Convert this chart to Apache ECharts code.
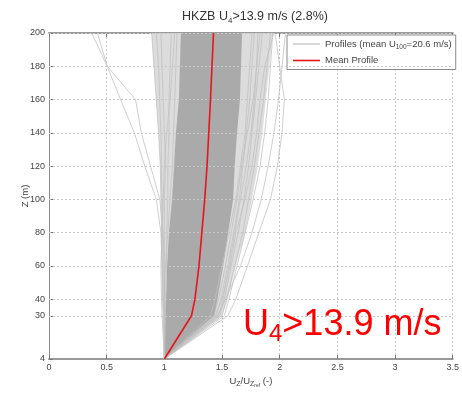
<!DOCTYPE html>
<html>
<head>
<meta charset="utf-8">
<script src="https://cdn.jsdelivr.net/npm/echarts@6/dist/echarts.min.js"></script>
<style>html,body{margin:0;padding:0;background:#fff;}#c{width:462px;height:397px;}</style>
</head>
<body>
<div id="c"></div>
<script>
// Measurement heights (m) and y tick labels
const heights = [4, 30, 40, 60, 80, 100, 120, 140, 160, 180, 200];
const yTicks = [4, 30, 40, 60, 80, 100, 120, 140, 160, 180, 200];
// Mean profile U_z/U_zref at each height
const meanProfile = [1.0, 1.235, 1.265, 1.30, 1.325, 1.35, 1.37, 1.385, 1.40, 1.413, 1.426];
// Dense core of the profile bundle (left / right envelope)
const coreLeft  = [1.0, 1.007, 1.015, 1.024, 1.04, 1.067, 1.084, 1.10, 1.126, 1.135, 1.143];
const coreRight = [1.0, 1.433, 1.46, 1.51, 1.553, 1.596, 1.61, 1.63, 1.655, 1.664, 1.674];
// Sparse fringe of the bundle (left / right envelope)
const fringeLeft  = [1.0, 0.99, 0.985, 0.98, 0.975, 0.97, 0.965, 0.95, 0.93, 0.91, 0.89];
const fringeRight = [1.0, 1.50, 1.55, 1.62, 1.70, 1.76, 1.81, 1.85, 1.88, 1.91, 1.94];
// Individual profiles visible outside the dense core
const profileP1 = [1.0, 0.99, 0.985, 0.98, 0.975, 0.97, 0.965, 0.95, 0.93, 0.91, 0.89];
const profileP2 = [1.0, 1.0, 0.99, 0.99, 0.985, 0.98, 0.975, 0.97, 0.96, 0.95, 0.93];
const profileP3 = [1.0, 0.995, 1.0, 1.0, 1.0, 1.0, 1.01, 1.0, 0.99, 0.98, 0.97];
const profileP4 = [1.0, 1.01, 1.01, 1.02, 1.02, 1.03, 1.03, 1.04, 1.04, 1.05, 1.06];
const profileP5 = [1.0, 0.98, 0.975, 0.97, 0.98, 0.99, 1.0, 1.02, 1.05, 1.07, 1.09];
const profileP6 = [1.0, 1.0, 1.0, 1.01, 1.03, 1.05, 1.07, 1.08, 1.09, 1.10, 1.11];
const profileL1 = [1.0, 1.0, 0.99, 0.98, 0.97, 0.93, 0.83, 0.74, 0.62, 0.505, 0.37];
const profileL2 = [1.0, 1.0, 1.0, 1.0, 0.99, 0.96, 0.88, 0.80, 0.75, 0.505, 0.42];
const profileR1 = [1.0, 1.45, 1.49, 1.55, 1.60, 1.65, 1.68, 1.71, 1.74, 1.76, 1.78];
const profileR2 = [1.0, 1.48, 1.52, 1.58, 1.64, 1.69, 1.73, 1.76, 1.79, 1.82, 1.85];
const profileR3 = [1.0, 1.50, 1.54, 1.61, 1.68, 1.73, 1.78, 1.82, 1.86, 1.89, 1.92];
const profileR4 = [1.0, 1.44, 1.50, 1.57, 1.62, 1.70, 1.76, 1.80, 1.83, 1.87, 1.95];
const profileR5 = [1.0, 1.52, 1.56, 1.63, 1.70, 1.77, 1.83, 1.87, 1.90, 1.92, 1.94];
const profileR6 = [1.0, 1.40, 1.44, 1.50, 1.56, 1.62, 1.66, 1.70, 1.72, 1.74, 1.76];
const profileR7 = [1.0, 1.55, 1.62, 1.72, 1.82, 1.92, 1.98, 2.02, 2.04, 2.00, 1.96];
const profileR8 = [1.0, 1.46, 1.53, 1.66, 1.76, 1.84, 1.90, 1.95, 1.99, 2.02, 2.05];
const profileR9 = [1.0, 1.43, 1.47, 1.53, 1.58, 1.63, 1.67, 1.72, 1.77, 1.80, 1.83];
const profileR10 = [1.0, 1.47, 1.51, 1.56, 1.61, 1.66, 1.71, 1.75, 1.78, 1.80, 1.81];

const profiles = [profileP1, profileP2, profileP3, profileP4, profileP5, profileP6,
  profileL1, profileL2, profileR1, profileR2, profileR3, profileR4, profileR5,
  profileR6, profileR7, profileR8, profileR9, profileR10];

const FONT = 'Liberation Sans, Arial, sans-serif';
const chart = echarts.init(document.getElementById('c'), null, {renderer: 'canvas'});

function bandSeries(name, left, right, fill, z) {
  return {
    type: 'custom', name: name, coordinateSystem: 'cartesian2d', xAxisIndex: 0, yAxisIndex: 0,
    data: [[1, 100]], silent: true, z: z, clip: true,
    renderItem: function (params, api) {
      const pts = [];
      for (let i = 0; i < heights.length; i++) pts.push(api.coord([left[i], heights[i]]));
      for (let i = heights.length - 1; i >= 0; i--) pts.push(api.coord([right[i], heights[i]]));
      return {type: 'polygon', shape: {points: pts}, style: {fill: fill}};
    }
  };
}

const series = [];
series.push({
  type: 'line', name: 'grid', data: [], silent: true, z: 0,
  markLine: {
    silent: true, symbol: ['none', 'none'], label: {show: false},
    lineStyle: {color: '#c6c6c6', type: [2, 2], width: 1},
    data: yTicks.filter(v => v !== 4).map(v => ({yAxis: v}))
  }
});
series.push(bandSeries('fringe', fringeLeft, fringeRight, '#dcdcdc', 1));
series.push(bandSeries('core', coreLeft, coreRight, '#aaaaaa', 2));
profiles.forEach(function (p) {
  series.push({
    type: 'line', name: 'Profiles', symbol: 'none', showSymbol: false, silent: true, z: 3,
    data: heights.map((h, i) => [p[i], h]),
    lineStyle: {color: '#c2c2c2', width: 0.8},
    itemStyle: {color: '#c2c2c2'}
  });
});
series.push({
  type: 'line', name: 'Mean Profile', symbol: 'none', showSymbol: false, silent: true, z: 5,
  data: heights.map((h, i) => [meanProfile[i], h]),
  lineStyle: {color: '#e8141b', width: 1.6},
  itemStyle: {color: '#e8141b'}
});

const option = {
  animation: false,
  backgroundColor: '#ffffff',
  grid: {left: 49, right: 3, top: 33, bottom: 38, show: false},
  legend: {
    orient: 'vertical', left: 287, top: 35,
    data: [
      {name: 'Profiles', icon: 'rect', itemStyle: {color: '#cfcfcf'}},
      {name: 'Mean Profile', icon: 'rect', itemStyle: {color: '#e8141b'}}
    ],
    backgroundColor: '#ffffff', borderColor: '#8a8a8a', borderWidth: 1, borderRadius: 0,
    padding: [4, 4, 4, 6], itemGap: 5, itemWidth: 27, itemHeight: 1.6,
    selectedMode: false,
    formatter: function (name) {
      return name === 'Profiles' ? '{a|Profiles (mean U}{s|100}{a|=20.6 m/s)}' : '{a|Mean Profile}';
    },
    textStyle: {
      rich: {
        a: {fontSize: 9.5, fontFamily: FONT, color: '#444', lineHeight: 13},
        s: {fontSize: 6.5, fontFamily: FONT, color: '#444', lineHeight: 6, verticalAlign: 'bottom'}
      }
    }
  },
  xAxis: [{
    type: 'value', min: 0, max: 3.5, interval: 0.5, position: 'bottom',
    axisLine: {show: true, lineStyle: {color: '#9a9a9a', width: 2}},
    axisTick: {show: true, inside: true, length: 4, lineStyle: {color: '#777'}},
    axisLabel: {fontSize: 9, fontFamily: FONT, color: '#444', margin: 4},
    splitLine: {show: true, lineStyle: {color: '#c6c6c6', type: [2, 2], width: 1}},
    name: '{a|U}{s|Z}{a|/U}{s|Z}{t|ref}{a| (-)}', nameLocation: 'middle', nameGap: 16,
    nameMoveOverlap: false,
    nameTextStyle: {
      rich: {
        a: {fontSize: 9.5, fontFamily: FONT, color: '#444', lineHeight: 13},
        s: {fontSize: 7, fontFamily: FONT, color: '#444', lineHeight: 6, verticalAlign: 'bottom'},
        t: {fontSize: 5, fontFamily: FONT, color: '#444', lineHeight: 2, verticalAlign: 'bottom'}
      }
    }
  }, {
    type: 'value', min: 0, max: 3.5, interval: 0.5, position: 'top',
    axisLine: {show: true, lineStyle: {color: '#9a9a9a', width: 2}},
    axisTick: {show: true, inside: true, length: 4, lineStyle: {color: '#777'}},
    axisLabel: {show: false}, splitLine: {show: false}
  }],
  yAxis: [{
    type: 'value', min: 4, max: 200,
    axisLine: {show: true, lineStyle: {color: '#8a8a8a', width: 1}},
    axisTick: {show: true, inside: true, length: 4, customValues: yTicks, lineStyle: {color: '#777'}},
    axisLabel: {fontSize: 9, fontFamily: FONT, color: '#444', margin: 4, customValues: yTicks},
    splitLine: {show: false},
    name: 'Z (m)', nameLocation: 'middle', nameGap: 19, nameRotate: 90,
    nameMoveOverlap: false,
    nameTextStyle: {fontSize: 9.5, fontFamily: FONT, color: '#444'}
  }],
  graphic: [{
    type: 'text', x: 255, y: 17, z: 10,
    style: {
      text: '{a|HKZB U}{s|4}{a|>13.9 m/s (2.8%)}', align: 'center', verticalAlign: 'middle',
      rich: {
        a: {fontSize: 12.5, fontFamily: FONT, fill: '#333', color: '#333', lineHeight: 16},
        s: {fontSize: 8, fontFamily: FONT, fill: '#333', color: '#333', lineHeight: 6, verticalAlign: 'bottom'}
      }
    }
  }, {
    type: 'text', x: 243, y: 304, z: 10,
    style: {
      text: '{a|U}{s|4}{a|>13.9 m/s}', align: 'left', verticalAlign: 'top',
      rich: {
        a: {fontSize: 36, fontFamily: FONT, fill: '#ff0000', color: '#ff0000', lineHeight: 42},
        s: {fontSize: 24, fontFamily: FONT, fill: '#ff0000', color: '#ff0000', lineHeight: 19, verticalAlign: 'bottom'}
      }
    }
  }],
  series: series
};
chart.setOption(option);
</script>
</body>
</html>
